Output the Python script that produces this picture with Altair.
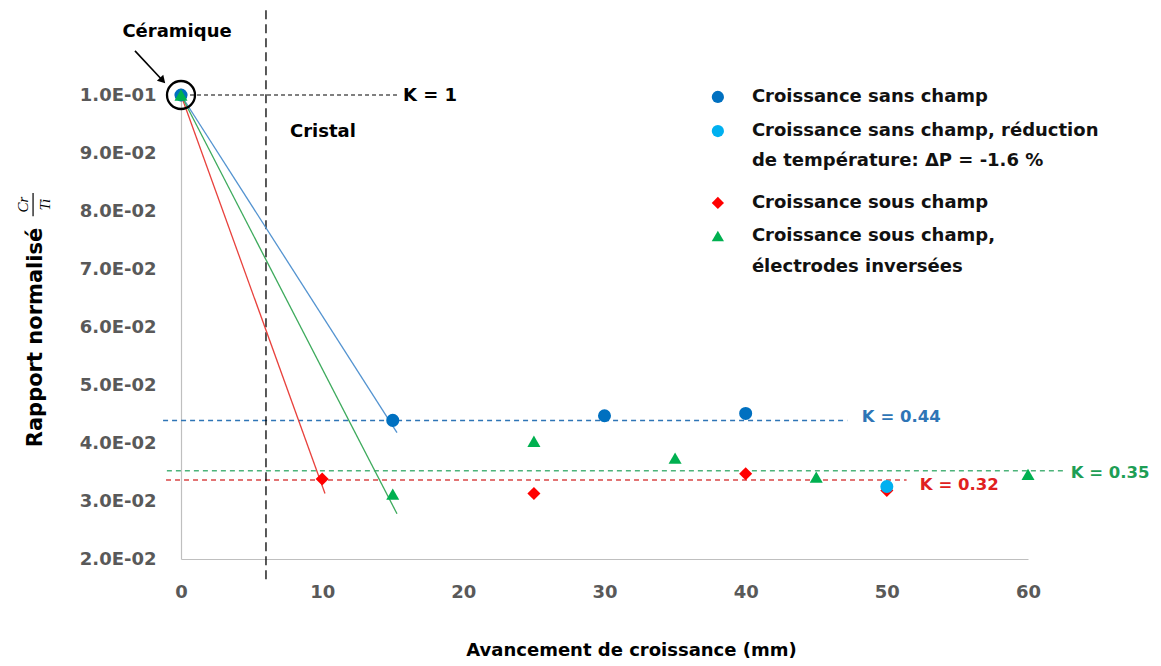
import altair as alt
import pandas as pd

# ---------------- data ----------------
series_names = [
    "Croissance sans champ",
    "Croissance sans champ, réduction de température",
    "Croissance sous champ",
    "Croissance sous champ, électrodes inversées",
]
marker_colors = ["#0070C0", "#00B0F0", "#FF0000", "#00B050"]
marker_shapes = ["circle", "circle", "diamond", "triangle-up"]

sans_x = [0, 15, 30, 40]
sans_y = [0.1, 0.0439, 0.0447, 0.0451]
sansred_x = [50]
sansred_y = [0.0325]
sous_x = [0, 10, 25, 40, 50]
sous_y = [0.1, 0.0338, 0.0313, 0.0347, 0.0318]
inv_x = [0, 15, 25, 35, 45, 60]
inv_y = [0.1, 0.0312, 0.0403, 0.0374, 0.0341, 0.0346]

# trend lines from the ceramic point
trend_x0 = [0, 0, 0]
trend_y0 = [0.1, 0.1, 0.1]
trend_x1 = [15.3, 10.2, 15.3]
trend_y1 = [0.0418, 0.0313, 0.0278]
trend_colors = ["#5393D0", "#E8413C", "#3DAA5C"]

# K levels (dashed horizontal lines)
k_values = [0.0439, 0.0352, 0.0336]
k_x1 = [-1.27, -1.0, -1.06]
k_x2 = [47.2, 62.6, 51.4]
k_line_colors = ["#2E75B6", "#4DB37A", "#D94545"]
k_labels = ["K = 0.44", "K = 0.35", "K = 0.32"]
k_label_x = [48.23, 63.03, 52.34]
k_label_y = [0.0444, 0.0349, 0.0327]
k_label_colors = ["#2E75B6", "#1E9E55", "#E02020"]

# other annotations
k1_x = [0.64]
k1_x2 = [15.3]
k1_y = [0.1]
cristal_x = [6.02]
cristal_y = [0.1146]
cristal_y2 = [0.0163]
notes_text = ["K = 1", "Cristal", "Céramique"]
notes_x = [15.72, 7.72, -0.28]
notes_y = [0.0999, 0.0937, 0.1108]
notes_align = ["left", "left", "center"]
arrow_x = [-3.26]
arrow_y = [0.1076]
arrow_x2 = [-1.45]
arrow_y2 = [0.1029]
arrowhead_x = [-1.3]
arrowhead_y = [0.1025]

# legend
legend_marker_x = [38.03, 38.03, 38.03, 38.03]
legend_marker_y = [0.09966, 0.09379, 0.08138, 0.07569]
legend_lines = [
    "Croissance sans champ",
    "Croissance sans champ, réduction",
    "de température: ΔP = -1.6 %",
    "Croissance sous champ",
    "Croissance sous champ,",
    "électrodes inversées",
]
legend_text_x = [40.44] * 6
legend_text_y = [0.09966, 0.09379, 0.08862, 0.08138, 0.07569, 0.07034]

# y-title fraction
frac_text = ["Cr", "Ti"]
frac_x = [-11.19, -9.63]
frac_y = [0.0811, 0.0811]
frac_bar_x = [-10.48]
frac_bar_y = [0.0831]
frac_bar_y2 = [0.0791]

x_ticks = [0, 10, 20, 30, 40, 50, 60]
y_ticks = [0.02, 0.03, 0.04, 0.05, 0.06, 0.07, 0.08, 0.09, 0.1]

# ---------------- build tables ----------------
rows = []
order = [2, 0, 1, 3]  # draw red first, green last (on top)
xs = [sans_x, sansred_x, sous_x, inv_x]
ys = [sans_y, sansred_y, sous_y, inv_y]
for i in order:
    for xv, yv in zip(xs[i], ys[i]):
        rows.append({"serie": series_names[i], "x": xv, "y": yv, "o": order.index(i)})
points_df = pd.DataFrame(rows)

trend_df = pd.DataFrame({"x": trend_x0, "y": trend_y0, "x2": trend_x1, "y2": trend_y1, "c": trend_colors})
kline_df = pd.DataFrame({"x": k_x1, "x2": k_x2, "y": k_values, "c": k_line_colors})
klab_df = pd.DataFrame({"t": k_labels, "x": k_label_x, "y": k_label_y, "c": k_label_colors})
k1_df = pd.DataFrame({"x": k1_x, "x2": k1_x2, "y": k1_y})
cris_df = pd.DataFrame({"x": cristal_x, "y": cristal_y, "y2": cristal_y2})
notes_df = pd.DataFrame({"t": notes_text, "x": notes_x, "y": notes_y, "a": notes_align})
arrow_df = pd.DataFrame({"x": arrow_x, "y": arrow_y, "x2": arrow_x2, "y2": arrow_y2})
head_df = pd.DataFrame({"x": arrowhead_x, "y": arrowhead_y})
circle_df = pd.DataFrame({"x": [sous_x[0]], "y": [sous_y[0]]})
leg_pts_df = pd.DataFrame({"serie": series_names, "x": legend_marker_x, "y": legend_marker_y})
leg_txt_df = pd.DataFrame({"t": legend_lines, "x": legend_text_x, "y": legend_text_y})
frac_df = pd.DataFrame({"t": frac_text, "x": frac_x, "y": frac_y})
fbar_df = pd.DataFrame({"x": frac_bar_x, "y": frac_bar_y, "y2": frac_bar_y2})

# ---------------- scales / axes ----------------
FONT = "DejaVu Sans"
xscale = alt.Scale(domain=[0, 60], nice=False, zero=False)
yscale = alt.Scale(domain=[0.02, 0.1], nice=False, zero=False)

exp_expr = "floor(log(datum.value)/LN10 + 1e-9)"
ylabel_expr = (
    f"format(datum.value / pow(10, {exp_expr}), '.1f') + 'E' + "
    f"({exp_expr} < 0 ? '-' : '+') + (abs({exp_expr}) < 10 ? '0' : '') + abs({exp_expr})"
)

xaxis = alt.Axis(
    values=x_ticks, format="d", grid=False, ticks=False, tickSize=0,
    labelFlush=False, labelOverlap=False,
    domainColor="#BFBFBF", domainWidth=1.2,
    labelFont=FONT, labelFontWeight="bold", labelFontSize=18, labelColor="#595959",
    labelPadding=24,
    title="Avancement de croissance (mm)", titleFont=FONT, titleFontWeight="bold",
    titleFontSize=18, titleColor="#000000", titleX=450, titleY=91,
    titleAlign="center", titleBaseline="middle",
)
yaxis = alt.Axis(
    values=y_ticks, labelExpr=ylabel_expr, grid=False, ticks=False, tickSize=0,
    labelFlush=False, labelOverlap=False,
    domainColor="#BFBFBF", domainWidth=1.2,
    labelFont=FONT, labelFontWeight="bold", labelFontSize=18, labelColor="#595959",
    labelPadding=25,
    title="Rapport  normalisé", titleFont=FONT, titleFontWeight="bold",
    titleFontSize=21, titleColor="#000000", titleX=-146, titleY=242,
    titleAlign="center", titleBaseline="middle", titleAngle=270,
)


def X(f="x"):
    return alt.X(f"{f}:Q", scale=xscale, axis=xaxis)


def Y(f="y"):
    return alt.Y(f"{f}:Q", scale=yscale, axis=yaxis)


color_scale = alt.Scale(domain=series_names, range=marker_colors)
shape_scale = alt.Scale(domain=series_names, range=marker_shapes)

# ---------------- layers ----------------
klines = alt.Chart(kline_df).mark_rule(strokeDash=[5, 4], strokeWidth=1.5).encode(
    x=X(), x2="x2:Q", y=Y(), color=alt.Color("c:N", scale=None)
)
k1line = alt.Chart(k1_df).mark_rule(strokeDash=[4, 3], strokeWidth=1.2, color="#000000").encode(
    x=X(), x2="x2:Q", y=Y()
)
crisline = alt.Chart(cris_df).mark_rule(strokeDash=[9, 5], strokeWidth=1.3, color="#000000").encode(
    x=X(), y=Y(), y2="y2:Q"
)
trends = alt.Chart(trend_df).mark_rule(strokeWidth=1.3).encode(
    x=X(), y=Y(), x2="x2:Q", y2="y2:Q", color=alt.Color("c:N", scale=None)
)
points = alt.Chart(points_df).mark_point(filled=True, size=170, opacity=1).encode(
    x=X(), y=Y(),
    color=alt.Color("serie:N", scale=color_scale, legend=None),
    shape=alt.Shape("serie:N", scale=shape_scale, legend=None),
    order=alt.Order("o:Q"),
)
circle = alt.Chart(circle_df).mark_point(
    shape="circle", filled=False, size=784, stroke="#000000", strokeWidth=2.3, opacity=1
).encode(x=X(), y=Y())
arrow = alt.Chart(arrow_df).mark_rule(strokeWidth=1.6, color="#000000").encode(
    x=X(), y=Y(), x2="x2:Q", y2="y2:Q"
)
head = alt.Chart(head_df).mark_point(
    shape="triangle-up", filled=True, size=75, color="#000000", angle=137, opacity=1
).encode(x=X(), y=Y())
klabels = alt.Chart(klab_df).mark_text(
    font=FONT, fontWeight="bold", fontSize=16.5, align="left", baseline="middle"
).encode(x=X(), y=Y(), text="t:N", color=alt.Color("c:N", scale=None))
notes_left = alt.Chart(notes_df[notes_df["a"] == "left"]).mark_text(
    font=FONT, fontWeight="bold", fontSize=18, align="left", baseline="middle", color="#000000"
).encode(x=X(), y=Y(), text="t:N")
notes_center = alt.Chart(notes_df[notes_df["a"] == "center"]).mark_text(
    font=FONT, fontWeight="bold", fontSize=18, align="center", baseline="middle", color="#000000"
).encode(x=X(), y=Y(), text="t:N")
leg_pts = alt.Chart(leg_pts_df).mark_point(filled=True, size=150, opacity=1).encode(
    x=X(), y=Y(),
    color=alt.Color("serie:N", scale=color_scale, legend=None),
    shape=alt.Shape("serie:N", scale=shape_scale, legend=None),
)
leg_txt = alt.Chart(leg_txt_df).mark_text(
    font=FONT, fontWeight="bold", fontSize=18, align="left", baseline="middle", color="#111111"
).encode(x=X(), y=Y(), text="t:N")
frac = alt.Chart(frac_df).mark_text(
    font="Liberation Serif", fontStyle="italic", fontSize=15, angle=270,
    align="center", baseline="middle", color="#000000"
).encode(x=X(), y=Y(), text="t:N")
fbar = alt.Chart(fbar_df).mark_rule(strokeWidth=1.2, color="#000000").encode(
    x=X(), y=Y(), y2="y2:Q"
)

chart = alt.layer(
    klines, k1line, crisline, trends, points, circle, arrow, head,
    klabels, notes_left, notes_center, leg_pts, leg_txt, frac, fbar,
).properties(
    width=847, height=464,
    autosize=alt.AutoSizeParams(type="none"),
    padding={"left": 173, "top": 87, "right": 125, "bottom": 99},
    background="#FFFFFF",
).configure_view(stroke=None)

chart.save("out.html", embed_options={"renderer": "svg", "actions": False})
